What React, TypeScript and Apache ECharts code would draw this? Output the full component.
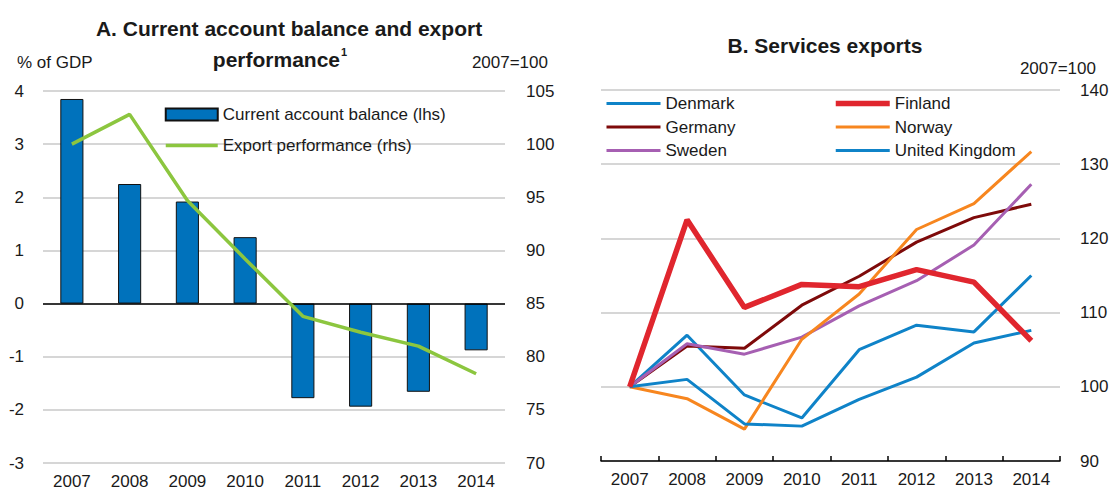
import React, { useEffect, useRef } from "react";
import * as echarts from "echarts";

const years = ["2007", "2008", "2009", "2010", "2011", "2012", "2013", "2014"];
const currentAccount = [3.85, 2.25, 1.92, 1.25, -1.78, -1.94, -1.66, -0.88];
const exportPerformance = [100, 102.8, 94.7, 89.2, 83.8, 82.3, 81.0, 78.4];

const denmark = [100, 106.95, 98.9, 95.8, 105.0, 108.3, 107.4, 115.0];
const unitedKingdom = [100, 101.0, 95.0, 94.7, 98.3, 101.3, 105.9, 107.6];
const finland = [100, 122.5, 110.7, 113.8, 113.5, 115.8, 114.1, 106.2];
const germany = [100, 105.5, 105.2, 111.0, 114.9, 119.5, 122.8, 124.6];
const norway = [100, 98.4, 94.3, 106.4, 112.5, 121.2, 124.7, 131.7];
const sweden = [100, 105.8, 104.4, 106.7, 110.9, 114.3, 119.1, 127.3];

const FONT = "'Liberation Sans', Arial, sans-serif";
const TXT = "#1a1a1a";
const GRID = "#c8c8c8";

export default function App() {
  const ref = useRef<HTMLDivElement>(null);
  useEffect(() => {
    if (!ref.current) return;
    const chart = echarts.init(ref.current, undefined, { renderer: "svg" });
    const lab = { color: TXT, fontSize: 17, fontFamily: FONT };
    const noSym = (name: string, w: number) => ({ name, itemStyle: { opacity: 0 }, lineStyle: { width: w } });
    const lineS = (name: string, data: number[], color: string, width: number) => ({
      name,
      type: "line",
      xAxisIndex: 1,
      yAxisIndex: 2,
      data,
      symbol: "none",
      lineStyle: { color, width },
      itemStyle: { color },
    });
    chart.setOption({
      animation: false,
      textStyle: { fontFamily: FONT },
      grid: [
        { left: 43, top: 91, width: 462, height: 373 },
        { left: 601, top: 90, width: 459, height: 371 },
      ],
      xAxis: [
        {
          type: "category",
          gridIndex: 0,
          data: years,
          axisLine: { show: false },
          axisTick: { show: false },
          axisLabel: { ...lab, margin: 10 },
        },
        {
          type: "category",
          gridIndex: 1,
          data: years,
          axisLine: { show: true, lineStyle: { color: "#000", width: 1.5 } },
          axisTick: { show: true, inside: true, length: 5, lineStyle: { color: "#000", width: 1.5 } },
          axisLabel: { ...lab, margin: 10 },
        },
      ],
      yAxis: [
        {
          type: "value",
          gridIndex: 0,
          min: -3,
          max: 4,
          interval: 1,
          position: "left",
          axisLine: { show: false },
          axisTick: { show: false },
          axisLabel: { ...lab, margin: 19 },
          splitLine: { lineStyle: { color: GRID, width: 1.5 } },
        },
        {
          type: "value",
          gridIndex: 0,
          min: 70,
          max: 105,
          interval: 5,
          position: "right",
          axisLine: { show: false },
          axisTick: { show: false },
          axisLabel: { ...lab, margin: 21 },
          splitLine: { show: false },
        },
        {
          type: "value",
          gridIndex: 1,
          min: 90,
          max: 140,
          interval: 10,
          position: "right",
          axisLine: { show: false },
          axisTick: { show: false },
          axisLabel: { ...lab, margin: 20 },
          splitLine: { lineStyle: { color: GRID, width: 1.5 } },
        },
      ],
      legend: [
        {
          orient: "vertical",
          left: 164,
          top: 106,
          padding: 0,
          itemWidth: 52,
          itemHeight: 12,
          itemGap: 14,
          textStyle: { ...lab },
          data: [
            { name: "Current account balance (lhs)", icon: "rect" },
            noSym("Export performance (rhs)", 3.5),
          ],
        },
        {
          orient: "vertical",
          left: 605,
          top: 95,
          padding: 0,
          itemWidth: 54,
          itemHeight: 14,
          itemGap: 6.5,
          textStyle: { ...lab },
          data: [noSym("Denmark", 3), noSym("Germany", 3), noSym("Sweden", 3)],
        },
        {
          orient: "vertical",
          left: 833,
          top: 95,
          padding: 0,
          itemWidth: 54,
          itemHeight: 14,
          itemGap: 6.5,
          textStyle: { ...lab },
          data: [noSym("Finland", 5.5), noSym("Norway", 3), noSym("United Kingdom", 3)],
        },
      ],
      series: [
        {
          name: "Current account balance (lhs)",
          type: "bar",
          xAxisIndex: 0,
          yAxisIndex: 0,
          data: currentAccount,
          barWidth: "40%",
          itemStyle: { color: "#0072BC", borderColor: "#111", borderWidth: 1 },
          markLine: {
            silent: true,
            symbol: "none",
            label: { show: false },
            lineStyle: { color: "#000", width: 1.5, type: "solid" },
            data: [{ yAxis: 0 }],
          },
        },
        {
          name: "Export performance (rhs)",
          type: "line",
          xAxisIndex: 0,
          yAxisIndex: 1,
          data: exportPerformance,
          symbol: "none",
          lineStyle: { color: "#8CC63F", width: 3.5 },
          itemStyle: { color: "#8CC63F" },
          z: 5,
        },
        lineS("Denmark", denmark, "#0F83C8", 3),
        lineS("Germany", germany, "#7E0A0A", 3),
        lineS("Sweden", sweden, "#A65FB2", 3),
        lineS("Norway", norway, "#F7861F", 3),
        lineS("United Kingdom", unitedKingdom, "#0F83C8", 3),
        lineS("Finland", finland, "#E0262E", 5.5),
      ],
      graphic: [
        {
          type: "text",
          x: 289,
          y: 28,
          style: {
            text: "A. Current account balance and export",
            textAlign: "center",
            textVerticalAlign: "middle",
            fill: TXT,
            font: `bold 21px ${FONT}`,
          },
        },
        {
          type: "text",
          x: 280,
          y: 58,
          style: {
            text: "{m|performance}{s|1}",
            textAlign: "center",
            textVerticalAlign: "middle",
            fill: TXT,
            rich: {
              m: { fontSize: 21, fontWeight: "bold", fontFamily: FONT, color: TXT, verticalAlign: "bottom", lineHeight: 24 },
              s: { fontSize: 11, fontWeight: "bold", fontFamily: FONT, color: TXT, verticalAlign: "top", lineHeight: 24, padding: [0, 0, 10, 1] },
            },
          },
        },
        {
          type: "text",
          x: 17,
          y: 62,
          style: { text: "% of GDP", textVerticalAlign: "middle", fill: TXT, font: `17px ${FONT}` },
        },
        {
          type: "text",
          x: 548,
          y: 62,
          style: { text: "2007=100", textAlign: "right", textVerticalAlign: "middle", fill: TXT, font: `17px ${FONT}` },
        },
        {
          type: "text",
          x: 825,
          y: 45,
          style: {
            text: "B. Services exports",
            textAlign: "center",
            textVerticalAlign: "middle",
            fill: TXT,
            font: `bold 21px ${FONT}`,
          },
        },
        {
          type: "text",
          x: 1096,
          y: 68,
          style: { text: "2007=100", textAlign: "right", textVerticalAlign: "middle", fill: TXT, font: `17px ${FONT}` },
        },
      ],
    });
    return () => chart.dispose();
  }, []);
  return (
    <div
      ref={ref}
      style={{ position: "absolute", left: 0, top: 0, width: 1112, height: 490, background: "#fff" }}
    />
  );
}
